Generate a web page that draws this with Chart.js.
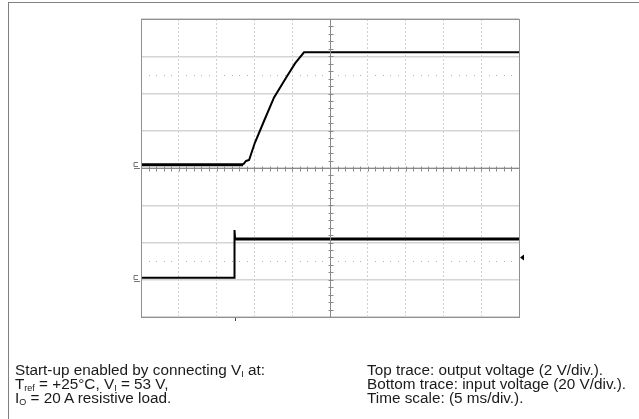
<!DOCTYPE html>
<html>
<head>
<meta charset="utf-8">
<script src="https://cdn.jsdelivr.net/npm/chart.js@4.4.1/dist/chart.umd.min.js"></script>
<style>
  html, body { margin: 0; padding: 0; background: #fff; }
  #wrap { position: relative; width: 639px; height: 419px; overflow: hidden; }
  #frame { position: absolute; left: 8px; top: 2px; right: 0; bottom: 0;
           border-left: 1px solid #808080; border-top: 1px solid #808080; }
  canvas { position: absolute; left: 0; top: 0; }
  .note { position: absolute; font-family: "Liberation Sans", Arial, sans-serif;
          font-size: 15.3px; line-height: 14px; color: #1a1a1a; white-space: nowrap; }
  .sub { font-size: 9px; vertical-align: -2px; line-height: 0; }
</style>
</head>
<body>
<div id="wrap">
  <div id="frame"></div>
  <canvas id="myChart" width="639" height="419"></canvas>
  <div class="note" style="left:15px; top:363px;">
    Start-up enabled by connecting V<span class="sub">I</span> at:<br>
    T<span class="sub">ref</span> = +25°C, V<span class="sub">I</span> = 53 V,<br>
    I<span class="sub">O</span> = 20 A resistive load.
  </div>
  <div class="note" style="left:367px; top:363px;">
    Top trace: output voltage (2 V/div.).<br>
    Bottom trace: input voltage (20 V/div.).<br>
    Time scale: (5 ms/div.).
  </div>
</div>
<script>
// time base 5 ms/div, 10 divisions
const msPerDiv = 5;
const xDivs = 10;
const yDivs = 8;

// top trace: output voltage, 2 V/div, ground marker at 4.09 div
const topVoltsPerDiv = 2;
const topGround = 4.09;
const topTime = [0, 13.5, 13.9, 14.3, 15.05, 16.3, 17.6, 19.27, 20.4, 21.56, 50];
const topVolts = [0, 0, 0.2, 0.25, 1.16, 2.37, 3.61, 4.72, 5.45, 6.03, 6.03];

// bottom trace: input voltage, 20 V/div, ground marker at 1.055 div
const botVoltsPerDiv = 20;
const botGround = 1.055;
const botTime = [0, 12.37, 12.37, 12.45, 50];
const botVolts = [0, 0, 25.6, 20.8, 20.8];

// dotted reference lines (in divisions)
const refLines = [6.51, 1.5];

function toPoints(t, v, ground, vpd) {
  return t.map((x, i) => ({ x: x, y: ground + v[i] / vpd }));
}

const scopeExtras = {
  id: 'scopeExtras',
  afterDatasetsDraw(chart) {
    const ctx = chart.ctx;
    const xs = chart.scales.x, ys = chart.scales.y;
    const a = chart.chartArea;
    ctx.save();

    // dotted reference lines
    ctx.fillStyle = '#b0b0b0';
    refLines.forEach(d => {
      const py = Math.round(ys.getPixelForValue(d));
      for (let i = 0; i < xDivs; i++) {
        for (let j = 1; j <= 4; j++) {
          const px = Math.round(xs.getPixelForValue((i + j * 0.2) * msPerDiv));
          ctx.fillRect(px, py, 1, 1);
        }
      }
    });

    // centre cross with minor ticks
    ctx.strokeStyle = '#8a8a8a';
    ctx.lineWidth = 1;
    const cx = Math.round(xs.getPixelForValue(xDivs / 2 * msPerDiv)) + 0.5;
    const cy = Math.round(ys.getPixelForValue(yDivs / 2)) + 0.5;
    ctx.beginPath();
    ctx.moveTo(a.left, cy); ctx.lineTo(a.right, cy);
    ctx.moveTo(cx, a.top); ctx.lineTo(cx, a.bottom);
    for (let k = 1; k < xDivs * 5; k++) {
      const px = Math.round(xs.getPixelForValue(k * 0.2 * msPerDiv)) + 0.5;
      ctx.moveTo(px, cy - 2); ctx.lineTo(px, cy + 3);
    }
    for (let k = 1; k < yDivs * 5; k++) {
      const py = Math.round(ys.getPixelForValue(k * 0.2)) + 0.5;
      ctx.moveTo(cx - 2, py); ctx.lineTo(cx + 3, py);
    }
    ctx.stroke();

    // outer frame
    ctx.strokeStyle = '#909090';
    ctx.strokeRect(Math.round(a.left) + 0.5, Math.round(a.top) + 0.5,
                   Math.round(a.right - a.left), Math.round(a.bottom - a.top));

    // ground markers
    ctx.strokeStyle = '#777';
    [topGround, botGround].forEach(g => {
      const py = Math.round(ys.getPixelForValue(g)) + 0.5;
      ctx.beginPath();
      ctx.moveTo(a.left - 3, py - 3); ctx.lineTo(a.left - 7, py - 3);
      ctx.lineTo(a.left - 7, py + 1); ctx.lineTo(a.left - 3, py + 1);
      ctx.moveTo(a.left - 7, py + 3); ctx.lineTo(a.left - 1, py + 3);
      ctx.stroke();
    });

    // trigger level arrow
    const ty = ys.getPixelForValue(1.6);
    ctx.fillStyle = '#000';
    ctx.beginPath();
    ctx.moveTo(a.right + 1, ty);
    ctx.lineTo(a.right + 5, ty - 3);
    ctx.lineTo(a.right + 5, ty + 3);
    ctx.closePath();
    ctx.fill();

    // trigger position tick
    const tx = Math.round(xs.getPixelForValue(botTime[1])) + 0.5;
    ctx.strokeStyle = '#444';
    ctx.beginPath();
    ctx.moveTo(tx, a.bottom + 1); ctx.lineTo(tx, a.bottom + 4);
    ctx.stroke();

    ctx.restore();
  }
};

var ctx = document.getElementById('myChart').getContext('2d');
var myChart = new Chart(ctx, {
  type: 'line',
  data: {
    datasets: [{
      label: 'Output voltage',
      data: toPoints(topTime, topVolts, topGround, topVoltsPerDiv),
      borderColor: '#000',
      borderWidth: 2,
      pointRadius: 0,
      tension: 0,
      segment: {
        borderWidth: c => c.p1.parsed.x <= 13.5 ? 3 : 2
      }
    }, {
      label: 'Input voltage',
      data: toPoints(botTime, botVolts, botGround, botVoltsPerDiv),
      borderColor: '#000',
      borderWidth: 2,
      pointRadius: 0,
      tension: 0,
      segment: {
        borderWidth: c => c.p0.parsed.x > 12.4 ? 3 : 2
      }
    }]
  },
  options: {
    responsive: false,
    animation: false,
    layout: { padding: { left: 141, top: 19, right: 120, bottom: 102 } },
    plugins: { legend: { display: false }, tooltip: { enabled: false } },
    scales: {
      x: {
        type: 'linear',
        min: 0,
        max: xDivs * msPerDiv,
        ticks: { display: false, stepSize: msPerDiv },
        grid: { color: '#cfcfcf', lineWidth: 1, drawTicks: false },
        border: { display: false, dash: [2, 2] }
      },
      y: {
        type: 'linear',
        min: 0,
        max: yDivs,
        ticks: { display: false, stepSize: 1 },
        grid: { color: '#d4d4d4', lineWidth: 1.5, drawTicks: false },
        border: { display: false }
      }
    }
  },
  plugins: [scopeExtras]
});
</script>
</body>
</html>
